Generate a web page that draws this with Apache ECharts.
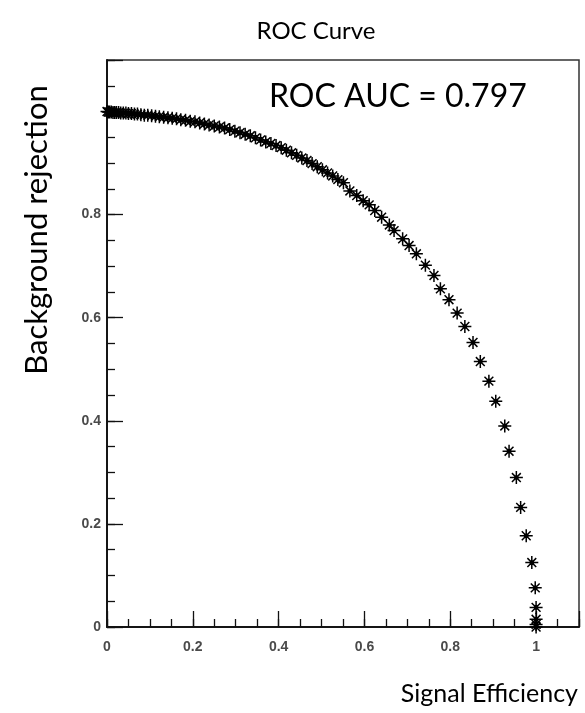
<!DOCTYPE html>
<html>
<head>
<meta charset="utf-8">
<script src="https://cdn.jsdelivr.net/npm/echarts@6/dist/echarts.min.js"></script>
<style>
html,body{margin:0;padding:0;background:#fff;}
#c{width:585px;height:713px;}
</style>
</head>
<body>
<div id="c"></div>
<script>
// Signal efficiency (x) and background rejection (y)
const signalEff = [
0.000,0.003,0.006,0.010,0.014,0.018,0.022,0.027,0.032,0.038,0.044,0.050,0.057,0.064,0.071,0.079,0.087,0.095,
0.104,0.113,0.122,0.132,0.142,0.152,0.162,0.172,0.183,0.194,0.205,0.216,0.227,0.238,0.250,0.262,0.274,0.286,
0.298,0.310,0.322,0.334,0.346,0.358,0.370,0.382,0.394,0.406,0.418,0.430,0.442,0.454,0.466,0.478,0.490,0.502,
0.514,0.526,0.538,0.551,0.566,0.582,0.597,0.611,0.624,0.640,0.658,0.669,0.689,0.704,0.721,0.742,0.762,0.777,
0.797,0.816,0.834,0.853,0.870,0.890,0.906,0.927,0.937,0.954,0.964,0.977,0.990,0.998,1.000,1.000,1.000,1.000
];
const bkgRejection = [
1.000,0.999,0.999,0.999,0.998,0.998,0.998,0.998,0.997,0.997,0.997,0.996,0.996,0.995,0.995,0.994,0.993,0.993,
0.992,0.991,0.990,0.989,0.988,0.987,0.986,0.984,0.983,0.981,0.980,0.978,0.976,0.974,0.972,0.970,0.968,0.965,
0.962,0.959,0.956,0.953,0.949,0.945,0.941,0.938,0.934,0.930,0.925,0.920,0.915,0.910,0.905,0.899,0.893,0.887,
0.881,0.875,0.868,0.862,0.846,0.837,0.827,0.819,0.808,0.795,0.780,0.769,0.753,0.740,0.724,0.702,0.682,0.656,
0.635,0.609,0.583,0.552,0.515,0.477,0.438,0.390,0.341,0.290,0.232,0.177,0.125,0.076,0.038,0.015,0.005,0.000
];
const xTickLabels = ['0','0.2','0.4','0.6','0.8','1'];
const yTickLabels = ['0','0.2','0.4','0.6','0.8'];
const titleText = 'ROC Curve';
const aucText = 'ROC AUC = 0.797';
const xName = 'Signal Efficiency';
const yName = 'Background rejection';

const points = signalEff.map((x, i) => [x, bkgRejection[i]]);

function fmt(list) {
  return function (v) {
    const s = (Math.round(v * 10) / 10);
    const str = s === 0 ? '0' : (s === 1 ? '1' : s.toFixed(1));
    return list.indexOf(str) >= 0 && Math.abs(v - s) < 1e-6 ? str : '';
  };
}

const labelStyle = {fontFamily: 'Liberation Sans', fontSize: 14, fontWeight: 'bold', color: '#4a4a4a'};
const lineStyle = {color: '#111', width: 1.5};

const chart = echarts.init(document.getElementById('c'), null, {renderer: 'canvas'});
chart.setOption({
  animation: false,
  backgroundColor: '#fff',
  grid: {left: 107, right: 6, top: 60, bottom: 86, show: true, borderColor: '#333', borderWidth: 1.5, backgroundColor: 'transparent'},
  xAxis: [
    {type: 'value', position: 'bottom', min: 0, max: 1.1, interval: 0.05,
     axisLine: {show: true, lineStyle: lineStyle}, axisTick: {show: true, inside: true, length: 8, lineStyle: {color: '#111', width: 1.3}},
     axisLabel: {show: false}, splitLine: {show: false}},
    {type: 'value', position: 'bottom', min: 0, max: 1.1, interval: 0.2,
     axisLine: {show: true, lineStyle: lineStyle}, axisTick: {show: true, inside: true, length: 16, lineStyle: {color: '#111', width: 1.3}},
     axisLabel: Object.assign({show: true, margin: 13, formatter: fmt(xTickLabels)}, labelStyle), splitLine: {show: false}}
  ],
  yAxis: [
    {type: 'value', position: 'left', min: 0, max: 1.1, interval: 0.05,
     axisLine: {show: true, lineStyle: lineStyle}, axisTick: {show: true, inside: true, length: 8, lineStyle: {color: '#111', width: 1.3}},
     axisLabel: {show: false}, splitLine: {show: false}},
    {type: 'value', position: 'left', min: 0, max: 1.1, interval: 0.2,
     axisLine: {show: true, lineStyle: lineStyle}, axisTick: {show: true, inside: true, length: 16, lineStyle: {color: '#111', width: 1.3}},
     axisLabel: Object.assign({show: true, margin: 6, formatter: fmt(yTickLabels)}, labelStyle), splitLine: {show: false}}
  ],
  series: [{
    type: 'scatter',
    xAxisIndex: 0, yAxisIndex: 0,
    data: points,
    symbol: 'path://M5 0L5 10M0 5L10 5M1.6 1.6L8.4 8.4M8.4 1.6L1.6 8.4M3.8 3.8L6.2 3.8L6.2 6.2L3.8 6.2Z',
    symbolSize: 13,
    itemStyle: {color: '#000', borderColor: '#000', borderWidth: 1.5, opacity: 1},
    clip: false
  }],
  graphic: [
    {type: 'text', x: 316, y: 31, style: {text: titleText, fontFamily: 'Lato', fontSize: 24, fill: '#000', textAlign: 'center', textVerticalAlign: 'middle'}},
    {type: 'text', x: 269, y: 97, style: {text: aucText, fontFamily: 'Lato', fontSize: 32, fill: '#000', textAlign: 'left', textVerticalAlign: 'middle'}},
    {type: 'text', x: 578, y: 694, style: {text: xName, fontFamily: 'Lato', fontSize: 25, fill: '#000', textAlign: 'right', textVerticalAlign: 'middle'}},
    {type: 'text', x: 37, y: 230, rotation: Math.PI / 2, style: {text: yName, fontFamily: 'Lato', fontSize: 31, fill: '#000', textAlign: 'center', textVerticalAlign: 'middle'}}
  ]
});
</script>
</body>
</html>
